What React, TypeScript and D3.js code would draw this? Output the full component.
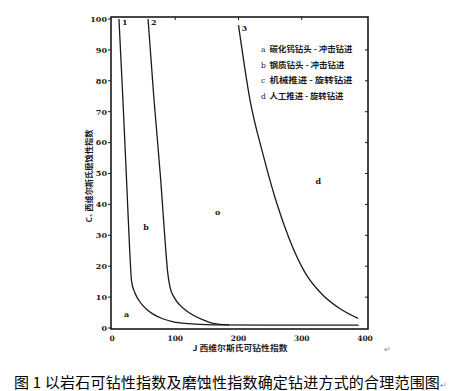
import React from 'react';
import * as d3 from 'd3';

// curve 1, 2, 3: [J, C1]
const curve1: [number, number][] = [
  [11, 100], [17, 75], [23, 48], [28, 25], [31, 15], [36, 11.5], [44, 8.5], [55, 6],
  [65, 4.5], [80, 3], [97, 2], [120, 1.4], [160, 1.0], [250, 0.9], [390, 0.9],
];
const curve2: [number, number][] = [
  [57, 100], [66, 75], [77, 48], [84, 28], [88, 18], [92, 13], [98, 10], [107, 7.5],
  [118, 5.5], [128, 4.2], [143, 2.7], [160, 1.5], [185, 1.0],
];
const curve3: [number, number][] = [
  [200, 98], [218, 74], [239, 56], [258, 42], [280, 29], [305, 18], [334, 10.5],
  [360, 6.3], [389, 3.1],
];
const curves = [curve1, curve2, curve3];
const curveNames = ['1', '2', '3'];

const xTicks = [0, 100, 200, 300, 400];
const yTicks = [0, 10, 20, 30, 40, 50, 60, 70, 80, 90, 100];

const regionLabels: { t: string; j: number; c: number }[] = [
  { t: 'a', j: 23, c: 4.5 },
  { t: 'b', j: 54, c: 32.5 },
  { t: 'o', j: 167, c: 37.5 },
  { t: 'd', j: 326, c: 47.5 },
];

const legendItems = [
  ['a', '碳化钨钻头 - 冲击钻进'],
  ['b', '钢质钻头 - 冲击钻进'],
  ['c', '机械推进 - 旋转钻进'],
  ['d', '人工推进 - 旋转钻进'],
];
const legendWidths = [83, 75, 83, 74];

const xTitle = 'J 西维尔斯氏可钻性指数';
const yTitle = 'C₁ 西维尔斯氏磨蚀性指数';
const caption = '图 1 以岩石可钻性指数及磨蚀性指数确定钻进方式的合理范围图';

export default function App() {
  const W = 464;
  const H = 391;
  const x = d3.scaleLinear().domain([0, 400]).range([112, 365]);
  const y = d3.scaleLinear().domain([0, 100]).range([328, 19]);
  const line = d3
    .line<[number, number]>()
    .x((d) => x(d[0]))
    .y((d) => y(d[1]))
    .curve(d3.curveMonotoneX);

  const ink = '#1a1a1a';
  const numFont = '"DejaVu Serif", serif';
  const cjk = '"Noto Sans CJK SC", sans-serif';

  const frame = { l: 111, r: 368, t: 17, b: 329 };

  return (
    <div style={{ position: 'absolute', left: 0, top: 0, background: '#fff' }}>
      <svg width={W} height={H} style={{ display: 'block' }}>
        <rect width={W} height={H} fill="#fff" />
        {/* frame */}
        <rect
          x={frame.l}
          y={frame.t}
          width={frame.r - frame.l}
          height={frame.b - frame.t}
          fill="none"
          stroke={ink}
          strokeWidth={1.6}
        />
        {/* left ticks + labels */}
        {yTicks.map((t) => (
          <g key={'y' + t}>
            <line x1={frame.l - 3} x2={frame.l} y1={y(t)} y2={y(t)} stroke={ink} strokeWidth={1} />
            <text
              x={frame.l - 4}
              y={y(t)}
              dy="0.35em"
              textAnchor="end"
              fontFamily={numFont}
              fontWeight="bold"
              fontSize={8}
              fill={ink}
            >
              {t}
            </text>
          </g>
        ))}
        {/* right ticks, inward */}
        {yTicks.slice(1, -1).map((t) => (
          <line key={'r' + t} x1={frame.r - 3} x2={frame.r} y1={y(t)} y2={y(t)} stroke={ink} strokeWidth={1} />
        ))}
        {/* top ticks, inward */}
        {xTicks.slice(1, -1).map((t) => (
          <line key={'t' + t} x1={x(t)} x2={x(t)} y1={frame.t} y2={frame.t + 3} stroke={ink} strokeWidth={1} />
        ))}
        {/* bottom labels */}
        {xTicks.map((t) => (
          <text
            key={'x' + t}
            x={x(t)}
            y={341}
            textAnchor="middle"
            fontFamily={numFont}
            fontWeight="bold"
            fontSize={7.5}
            fill={ink}
          >
            {t}
          </text>
        ))}
        {/* curves */}
        {curves.map((c, i) => (
          <path key={'c' + i} d={line(c) || ''} fill="none" stroke={ink} strokeWidth={1.3} />
        ))}
        {curves.map((c, i) => (
          <text
            key={'n' + i}
            x={x(c[0][0]) + 3}
            y={y(c[0][1]) + 6}
            fontFamily={numFont}
            fontWeight="bold"
            fontSize={8}
            fill={ink}
          >
            {curveNames[i]}
          </text>
        ))}
        {/* region letters */}
        {regionLabels.map((r) => (
          <text
            key={r.t}
            x={x(r.j)}
            y={y(r.c)}
            dy="0.35em"
            textAnchor="middle"
            fontFamily={numFont}
            fontWeight="bold"
            fontSize={8}
            fill={ink}
          >
            {r.t}
          </text>
        ))}
        {/* legend */}
        {legendItems.map((d, i) => (
          <g key={'l' + i} transform={`translate(261, ${49.5 + i * 15.5})`}>
            <text x={0} y={0} dy="0.35em" fontFamily={numFont} fontSize={7.5} fill={ink}>
              {d[0]}
            </text>
            <text
              x={8.5}
              y={0}
              dy="0.35em"
              fontFamily={cjk}
              fontWeight="bold"
              fontSize={8}
              textLength={legendWidths[i]}
              lengthAdjust="spacingAndGlyphs"
              fill={ink}
            >
              {d[1]}
            </text>
          </g>
        ))}
        {/* axis titles */}
        <text
          x={240}
          y={348}
          dy="0.35em"
          textAnchor="middle"
          fontFamily={cjk}
          fontWeight="bold"
          fontSize={7.5}
          textLength={95}
          lengthAdjust="spacingAndGlyphs"
          fill={ink}
        >
          {xTitle}
        </text>
        <text
          transform="translate(89, 176) rotate(-90)"
          textAnchor="middle"
          dy="0.35em"
          fontFamily={cjk}
          fontWeight="bold"
          fontSize={7.5}
          textLength={93}
          lengthAdjust="spacingAndGlyphs"
          fill={ink}
        >
          {yTitle}
        </text>
        <text x={387} y={349} dy="0.35em" textAnchor="middle" fontFamily={cjk} fontSize={8} fill="#888">
          ↵
        </text>
        {/* caption */}
        <text x={14} y={383} dy="0.35em" fontFamily={cjk} fontSize={15} fill="#000" letterSpacing={0.2}>
          {caption}
          <tspan fontSize={8} fill="#888">↵</tspan>
        </text>
      </svg>
    </div>
  );
}
